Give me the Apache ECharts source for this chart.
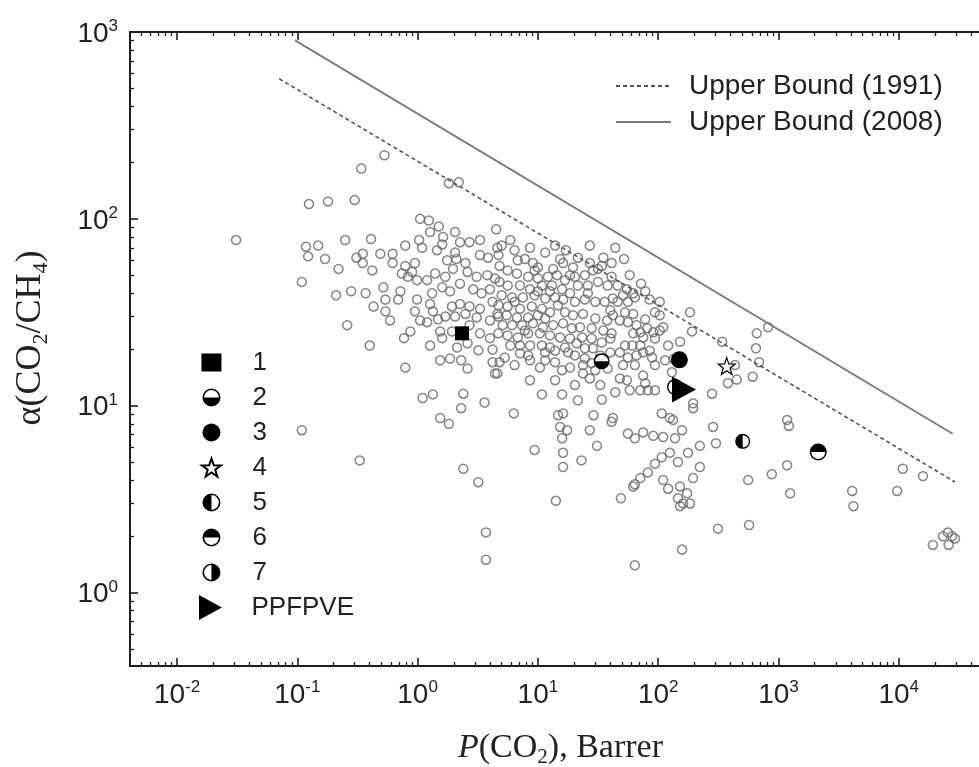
<!DOCTYPE html>
<html><head><meta charset="utf-8">
<script src="https://cdn.jsdelivr.net/npm/echarts@6/dist/echarts.min.js"></script>
<style>html,body{margin:0;padding:0;background:#fff}#c{width:979px;height:767px}</style>
</head><body><div id="c"></div>
<script>
// ---------- data ----------
const xMajorTicks = [0.01, 0.1, 1, 10, 100, 1000, 10000];
const yMajorTicks = [1, 10, 100, 1000];
const xRange = [0.004066, 46450];
const yRange = [0.4049, 1000];

const upper1991 = [[0.0708, 562], [29300, 3.91]];
const upper2008 = [[0.0957, 902], [28050, 7.09]];

const literature = [
[0.031,77],[0.118,71],[0.149,72],[0.123,63],[0.17,61],[0.109,46],[0.109,7.4],[0.125,120],[0.18,124],[0.30,126],
[0.34,186],[0.53,219],[0.22,54],[0.31,62],[0.35,58],[0.49,65],[0.62,58],[0.37,40],[0.52,43],[0.43,34],
[0.54,37],[0.54,32],[0.69,37],[0.99,37],[0.95,32],[0.26,27],[0.40,21],[0.77,23],[0.87,25],[0.79,16],
[0.33,5.1],[1.1,11],[1.34,11.5],[1.54,8.6],[1.82,8.0],[2.4,11.6],[2.3,9.7],[3.6,10.4],[2.4,4.6],[3.2,3.9],
[6.3,9.1],[10.8,11.5],[15.9,11.5],[9.4,5.8],[14.1,3.1],[16.2,5.6],[16.2,4.7],[15.3,7.7],[17.5,7.4],[15.9,6.7],
[14.7,8.9],[21.5,10.7],[23,5.1],[27,7.4],[31,6.1],[29,8.9],[41,8.2],[34,10.8],[49,3.2],[56,7.1],
[62,3.7],[1.05,100],[1.24,98],[1.5,91],[1.03,77],[1.09,70],[1.63,80],[1.6,73],[1.45,68],[2.25,75],
[2.7,75],[4.5,88],[3.3,64],[3.85,62],[0.62,65],[0.79,56],[0.95,58],[0.90,52],[0.74,51],[2.05,66],
[2.1,61],[1.76,60],[2.5,58],[1.97,54],[1.7,49],[1.4,51],[1.2,47],[0.99,47],[0.83,49],[2.6,52],
[3.1,49],[3.8,50],[4.4,48],[1.32,40],[1.27,35],[1.6,43],[1.86,41],[2.25,45],[2.9,42],[3.4,40],
[4.0,42],[1.93,34],[2.25,35],[2.7,34],[3.3,33],[4.2,36],[4.6,31],[1.34,32],[1.7,30],[2.05,30],
[2.5,31],[3.1,29.7],[1.2,28],[1.48,29],[1.54,25],[1.6,23],[2.13,20.5],[2.6,21.6],[3.3,24.4],[3.2,19.8],
[4.0,23],[4.2,20],[1.86,17.9],[2.3,17.5],[2.6,15.8],[4.2,17.1],[4.4,14.9],[5.9,77],[5.0,72],[4.7,64],
[4.8,56],[5.6,53],[11.5,66],[6.8,60],[7.8,61],[9.1,58],[10,55],[13.4,54],[16.2,58],[19.6,55],
[21.5,62],[24.6,50],[28.7,53],[35,62],[34,56],[41,49],[6.7,51],[8.3,49],[10,48],[12.1,49],
[14.4,50],[16.8,47],[20.3,49],[21.5,44],[26,44],[31.6,46],[38,44],[4.8,46],[5.6,44],[7.1,44],
[8.6,42],[10.8,44],[13.1,44],[15.9,42],[18.5,40],[5.0,39],[6.1,38],[7.5,38],[9.4,39],[11.5,37.5],
[13.9,38],[16.2,37],[20.3,36],[24.6,37],[30,36],[36,36],[42,37.5],[4.7,34.5],[5.6,34],[7.1,33],
[8.9,34],[10.8,33],[12.6,31.6],[4.7,30],[5.5,30.5],[6.7,29.7],[8.3,29.7],[10,30.5],[16.8,31.6],[19.6,30.5],
[23.7,31],[30,29.3],[37.6,28.6],[5.1,27],[6.1,27],[7.4,27],[9.1,27.6],[11,26.3],[13.4,27],[16.2,27.6],
[19.2,26],[22.4,26.3],[28,26],[35,25.3],[41,24.4],[4.7,24.4],[5.6,23.8],[6.8,23.2],[8.3,24.4],[10.4,24.4],
[12.6,23.8],[15.3,23.2],[18.5,22.9],[23.3,23.2],[28,22.9],[34,21.8],[40,22.9],[7.1,21],[8.6,21],[10.8,21],
[12.6,20.5],[16.8,20.5],[21,21.6],[24.6,20.3],[7.1,19.1],[8.3,18.6],[11.5,19.3],[17.8,19.3],[24.6,17.9],[28.7,20.3],
[40,19.3],[4.8,17.1],[5.3,18.1],[10.4,16],[11.5,17.5],[13.9,17.1],[15.9,15.5],[18.5,16],[23.7,16.5],[28,16.9],
[38,15.8],[23.7,14.9],[27,14],[30,15.5],[4.6,14.9],[16.2,9.1],[52,61],[72,45],[46,44],[55,42],
[62,40],[51,39],[46,36],[56,36],[64,38],[85,37],[103,36],[42,30.5],[53,31.6],[62,31],
[66,27],[62,24.4],[71,24.7],[81,26],[91,24.7],[103,25.3],[110,26.3],[75,23.2],[94,22.9],[61,21],
[71,21],[48,19.3],[56,18.1],[66,18.6],[75,19.3],[51,16.5],[64,16.5],[89,18.1],[94,16.5],[48,14],
[55,13.7],[75,14.5],[58,12.1],[71,12.1],[82,12.1],[94,12.1],[78,13.2],[184,31.6],[191,25],[280,11.6],
[195,10.3],[195,9.7],[107,9.1],[125,8.6],[42,8.6],[340,22],[660,24.4],[820,26.3],[650,20.3],[690,17.1],
[610,14.3],[450,13.8],[380,13.2],[435,16.5],[133,8.4],[158,7.4],[138,6.7],[110,6.8],[91,6.9],[75,7.2],
[64,6.7],[286,7.7],[302,6.3],[222,6.1],[177,5.6],[146,5.0],[125,5.6],[107,5.3],[94,4.9],[82,4.4],
[71,4.1],[64,3.8],[222,4.7],[195,4.1],[152,3.7],[174,3.4],[146,3.2],[161,3.0],[110,4.0],[121,3.6],
[560,4.0],[880,4.3],[1180,4.8],[1250,3.4],[1180,8.4],[1220,7.8],[4100,3.5],[4200,2.9],[9700,3.5],[10800,4.6],
[15900,4.2],[152,2.9],[184,3.0],[314,2.2],[570,2.3],[158,1.7],[64,1.4],[19200,1.8],[23300,2.0],[25600,2.1],
[27700,2.0],[26000,1.8],[29300,1.95],[3.7,2.1],[3.7,1.5],[1.82,155],[2.2,157],[0.41,78],[4.6,70],[0.35,65],
[135,17.8],
[6.4,68],[8.6,70],[13.9,72],[17.1,68],[27,72],[44,70],[9.4,53],[15.3,61],[27,58],[41,58],
[58,50],[78,41],[94,31.6],[78,29],[121,21],[152,22],[130,15.1],[44,11.8],[33,12.9],[20.3,12.9],
[13.9,13.7],[8.6,13.7],[6.4,16.5],[7.8,25.3],[11.5,29.3],[14.7,34.5],[26,40],[31.6,54],[18.5,50],[12.6,41],
[10,41],[6.4,36],[4.0,28.6],[2.7,27],[1.93,25],[1.27,21],[1.54,17.5],[1.05,28.6],[0.72,41],[0.59,28.6],
[0.28,41],[0.21,39],[0.42,53],[0.25,77],[0.79,72],[1.27,85],[2.05,85],[3.3,77],[48,28.6],[53,21],
[85,19.7],[114,17.5],[33,18.6],[20.3,18.6],[13.9,19.7],[8.6,17.5],[5.9,21],[40,32.4],[56,28],[103,30.5]
];

const sample1 = [[2.34, 24.4]];
const sample2 = [[33.9, 17.3]];
const sample3 = [[150, 17.6]];
const sample4 = [[371, 16.3]];
const sample5 = [[504, 6.45]];
const sample6 = [[2140, 5.65]];
const sample7 = [[138, 12.6]];
const ppfpve = [[164, 12.2]];

const legendBounds = ['Upper Bound (1991)', 'Upper Bound (2008)'];
const legendSamples = ['1', '2', '3', '4', '5', '6', '7'];
const legendOwn = ['PPFPVE'];

// ---------- helpers ----------
function minorTicks(lo, hi) {
  const out = [];
  for (let e = -4; e <= 5; e++) for (let m = 2; m <= 9; m++) {
    const v = +(m * Math.pow(10, e)).toPrecision(6);
    if (v > lo && v < hi) out.push(v);
  }
  return out;
}
const xMinor = minorTicks(xRange[0], xRange[1]);
const yMinor = minorTicks(yRange[0], yRange[1]);

const SANS = 'Liberation Sans, Arial, sans-serif';
const SERIF = 'Liberation Serif, Times New Roman, serif';
const INK = '#1c1c1c';
const lblRich = {
  b: {fontSize: 28, fontFamily: SANS, color: '#222', lineHeight: 28, padding: [4, 0, 0, 0]},
  s: {fontSize: 17, fontFamily: SANS, color: '#222', lineHeight: 17, verticalAlign: 'top'}
};
function powLabel(v) {
  const e = Math.round(Math.log10(v));
  return '{b|10}{s|' + e + '}';
}
function nameRich(fs) {
  return {
    n: {fontSize: fs, fontFamily: SERIF, color: '#222', lineHeight: fs, padding: [0, 0, Math.round(fs * 0.19), 0]},
    i: {fontSize: fs, fontFamily: SERIF, fontStyle: 'italic', color: '#222', lineHeight: fs, padding: [0, 0, Math.round(fs * 0.19), 0]},
    sub: {fontSize: Math.round(fs * 0.62), fontFamily: SERIF, color: '#222', lineHeight: Math.round(fs * 0.62), verticalAlign: 'bottom'}
  };
}

function majorAxis(pos, range, ticks, withLabels, extra) {
  return Object.assign({
    type: 'log', position: pos, min: range[0], max: range[1],
    axisLine: {show: true, onZero: false, lineStyle: {color: INK, width: 2}},
    axisTick: {show: true, inside: true, length: 8, customValues: ticks, lineStyle: {color: INK, width: 1.6}},
    axisLabel: withLabels ? {show: true, customValues: ticks, formatter: powLabel, rich: lblRich, margin: pos === 'left' ? 12 : 13} : {show: false},
    splitLine: {show: false}, minorTick: {show: false}
  }, extra || {});
}
function minorAxis(pos, range, ticks) {
  return {
    type: 'log', position: pos, min: range[0], max: range[1],
    axisLine: {show: false, onZero: false},
    axisTick: {show: true, inside: true, length: 4, customValues: ticks, lineStyle: {color: INK, width: 1.3}},
    axisLabel: {show: false}, splitLine: {show: false}
  };
}

const ring = 'M0,10A10,10,0,1,1,20,10A10,10,0,1,1,0,10ZM1.8,10A8.2,8.2,0,1,0,18.2,10A8.2,8.2,0,1,0,1.8,10Z';
const halfBottom = 'path://' + ring + 'M1.8,10A8.2,8.2,0,0,0,18.2,10Z';
const halfTop = 'path://' + ring + 'M1.8,10A8.2,8.2,0,0,1,18.2,10Z';
const halfLeft = 'path://' + ring + 'M10,1.8A8.2,8.2,0,0,0,10,18.2Z';
const halfRight = 'path://' + ring + 'M10,1.8A8.2,8.2,0,0,1,10,18.2Z';
const starPath = 'path://M10,0L12.35,6.76L19.51,6.91L13.8,11.24L15.88,18.09L10,14L4.12,18.09L6.2,11.24L0.49,6.91L7.65,6.76Z';
const triPath = 'path://M0,0L22,12L0,24Z';

function sample(name, data, symbol, size, style, z) {
  return {type: 'scatter', name: name, data: data, symbol: symbol, symbolSize: size,
    itemStyle: Object.assign({color: '#000', opacity: 1}, style || {}), z: z || 6, silent: true};
}
const legendText = {fontSize: 26, fontFamily: SANS, color: '#222', lineHeight: 27};

const chart = echarts.init(document.getElementById('c'), null, {renderer: 'canvas'});
chart.setOption({
  animation: false,
  backgroundColor: '#fff',
  grid: {left: 130, right: 0, top: 32, bottom: 101, containLabel: false, outerBoundsMode: 'none'},
  xAxis: [
    majorAxis('bottom', xRange, xMajorTicks, true, {
      name: '{i|P}{n|(CO}{sub|2}{n|), Barrer}', nameLocation: 'middle', nameGap: 68,
      nameTextStyle: {rich: nameRich(34), padding: [0, 0, 0, 12]}
    }),
    minorAxis('bottom', xRange, xMinor),
    majorAxis('top', xRange, xMajorTicks, false),
    minorAxis('top', xRange, xMinor)
  ],
  yAxis: [
    majorAxis('left', yRange, yMajorTicks, true, {
      name: '{n|α(CO}{sub|2}{n|/CH}{sub|4}{n|)}', nameLocation: 'middle', nameGap: 78, nameRotate: 90,
      nameTextStyle: {rich: nameRich(36), padding: [0, 0, 0, 22]}
    }),
    minorAxis('left', yRange, yMinor)
  ],
  legend: [
    {data: legendBounds, orient: 'vertical', left: 615, top: 72, padding: 0, itemWidth: 55, itemHeight: 14, itemGap: 8,
     selectedMode: false, itemStyle: {opacity: 0, color: 'rgba(0,0,0,0)', borderWidth: 0},
     textStyle: {fontSize: 28, fontFamily: SANS, color: '#222', lineHeight: 28, padding: [0, 0, 0, 13]}},
    {data: legendSamples, orient: 'vertical', left: 201, top: 349, padding: 0, itemWidth: 20, itemHeight: 18, itemGap: 8,
     selectedMode: false, textStyle: Object.assign({padding: [0, 0, 0, 26]}, legendText)},
    {data: legendOwn, orient: 'vertical', left: 199, top: 594, padding: 0, itemWidth: 24, itemHeight: 25, itemGap: 8,
     selectedMode: false, textStyle: Object.assign({padding: [0, 0, 0, 24]}, legendText)}
  ],
  series: [
    {type: 'scatter', name: 'literature', data: literature, symbol: 'circle', symbolSize: 9, silent: true, z: 2,
     itemStyle: {color: 'rgba(255,255,255,0)', borderColor: '#666', borderWidth: 1.5}},
    {type: 'line', name: 'Upper Bound (1991)', data: upper1991, symbol: 'none', silent: true, z: 3,
     itemStyle: {color: '#555'}, lineStyle: {color: '#555', width: 1.6, type: [4, 3]}},
    {type: 'line', name: 'Upper Bound (2008)', data: upper2008, symbol: 'none', silent: true, z: 3,
     itemStyle: {color: '#7a7a7a'}, lineStyle: {color: '#7a7a7a', width: 1.8}},
    {type: 'scatter', name: 'bg', data: [].concat(sample2, sample5, sample6, sample7), symbol: 'circle', symbolSize: 14,
     silent: true, z: 4, itemStyle: {color: '#fff'}},
    sample('1', sample1, 'rect', 14),
    sample('2', sample2, halfBottom, 16),
    sample('3', sample3, 'circle', 17),
    sample('4', sample4, starPath, 17, {color: '#fff', borderColor: '#000', borderWidth: 1.2}),
    sample('5', sample5, halfLeft, 15),
    sample('6', sample6, halfTop, 17),
    sample('7', sample7, halfRight, 16, null, 5),
    sample('PPFPVE', ppfpve, triPath, [24, 26], null, 7)
  ]
});
</script>
</body></html>
